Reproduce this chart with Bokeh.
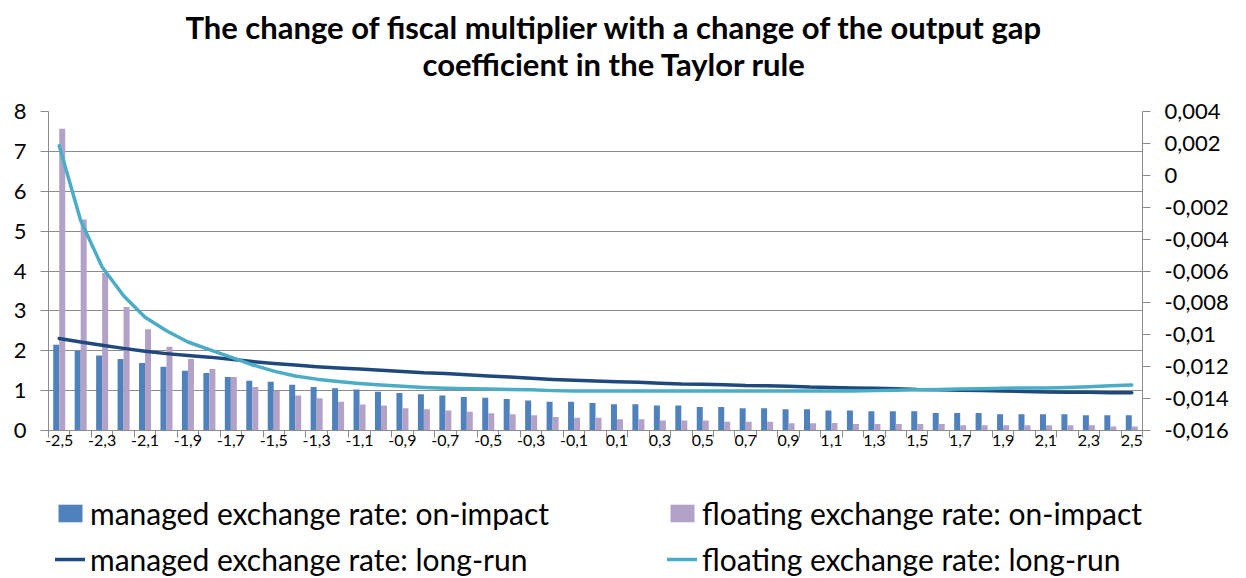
from bokeh.plotting import figure
from bokeh.layouts import column
from bokeh.models import (Range1d, LinearAxis, FixedTicker, CustomJSTickFormatter,
                          Legend, LegendItem, Label, ColumnDataSource)
from bokeh.transform import dodge
from bokeh.embed import file_html
from bokeh.resources import INLINE

# ---------------- data ----------------
categories = ["-2,5", "-2,4", "-2,3", "-2,2", "-2,1", "-2", "-1,9", "-1,8", "-1,7", "-1,6",
              "-1,5", "-1,4", "-1,3", "-1,2", "-1,1", "-1", "-0,9", "-0,8", "-0,7", "-0,6",
              "-0,5", "-0,4", "-0,3", "-0,2", "-0,1", "0", "0,1", "0,2", "0,3", "0,4",
              "0,5", "0,6", "0,7", "0,8", "0,9", "1", "1,1", "1,2", "1,3", "1,4",
              "1,5", "1,6", "1,7", "1,8", "1,9", "2", "2,1", "2,2", "2,3", "2,4", "2,5"]

managed_on_impact = [2.15, 2.00, 1.88, 1.79, 1.69, 1.60, 1.50, 1.44, 1.34, 1.25,
                     1.22, 1.15, 1.09, 1.06, 1.03, 0.97, 0.94, 0.91, 0.88, 0.84,
                     0.82, 0.79, 0.75, 0.72, 0.72, 0.69, 0.66, 0.66, 0.63, 0.63,
                     0.59, 0.59, 0.56, 0.56, 0.53, 0.53, 0.50, 0.50, 0.48, 0.48,
                     0.48, 0.44, 0.44, 0.44, 0.41, 0.41, 0.41, 0.41, 0.38, 0.38, 0.38]

floating_on_impact = [7.57, 5.29, 3.95, 3.10, 2.54, 2.10, 1.79, 1.54, 1.34, 1.09,
                      1.00, 0.88, 0.81, 0.72, 0.65, 0.63, 0.56, 0.53, 0.50, 0.47,
                      0.43, 0.41, 0.38, 0.34, 0.32, 0.32, 0.28, 0.28, 0.25, 0.25,
                      0.25, 0.22, 0.22, 0.22, 0.18, 0.18, 0.19, 0.16, 0.16, 0.16,
                      0.16, 0.16, 0.13, 0.13, 0.13, 0.13, 0.13, 0.13, 0.13, 0.10, 0.10]

managed_long_run = [-0.01023, -0.01045, -0.01065, -0.01085, -0.01103, -0.01118, -0.01130, -0.01140, -0.01153, -0.01168,
                    -0.01180, -0.01190, -0.01200, -0.01208, -0.01215, -0.01223, -0.01230, -0.01238, -0.01243, -0.01250,
                    -0.01258, -0.01265, -0.01273, -0.01280, -0.01285, -0.01290, -0.01295, -0.01298, -0.01303, -0.01308,
                    -0.01310, -0.01313, -0.01318, -0.01320, -0.01323, -0.01328, -0.01330, -0.01333, -0.01335, -0.01338,
                    -0.01343, -0.01345, -0.01348, -0.01350, -0.01353, -0.01355, -0.01358, -0.01360, -0.01360, -0.01363, -0.01363]

floating_long_run = [0.00185, -0.00283, -0.00575, -0.00755, -0.00890, -0.00975, -0.01045, -0.01093, -0.01140, -0.01188,
                     -0.01228, -0.01258, -0.01278, -0.01293, -0.01305, -0.01315, -0.01323, -0.01330, -0.01335, -0.01338,
                     -0.01340, -0.01343, -0.01345, -0.01350, -0.01353, -0.01353, -0.01353, -0.01353, -0.01353, -0.01353,
                     -0.01353, -0.01353, -0.01353, -0.01353, -0.01353, -0.01353, -0.01353, -0.01353, -0.01350, -0.01348,
                     -0.01345, -0.01343, -0.01340, -0.01338, -0.01335, -0.01333, -0.01333, -0.01330, -0.01325, -0.01320, -0.01315]

left_ticks = [0, 1, 2, 3, 4, 5, 6, 7, 8]
right_ticks = [-0.016, -0.014, -0.012, -0.010, -0.008, -0.006, -0.004, -0.002, 0.0, 0.002, 0.004]

title_lines = ["The change of fiscal multiplier with a change of the output gap",
               "coefficient in the Taylor rule"]
series_names = ["managed exchange rate: on-impact", "floating exchange rate: on-impact",
                "managed exchange rate: long-run", "floating exchange rate: long-run"]

# ---------------- styles ----------------
FONT = "Lato"
C_MAN_BAR = "#4F81BD"
C_FLO_BAR = "#B3A2C7"
C_MAN_LINE = "#1F497D"
C_FLO_LINE = "#4BACC6"
GRID = "#8C8C8C"
W = 1246
TITLE_H = 90
LEGEND_H = 98
MAIN_H = 578 - TITLE_H - LEGEND_H

n = len(categories)
pos = [i + 0.5 for i in range(n)]
src = ColumnDataSource(dict(pos=pos, mi=managed_on_impact, fi=floating_on_impact,
                            ml=managed_long_run, fl=floating_long_run))

# ---------------- title strip ----------------
tf = figure(width=W, height=TITLE_H, output_backend="svg", toolbar_location=None,
            x_range=Range1d(0, 1), y_range=Range1d(0, 1),
            x_axis_location=None, y_axis_location=None, min_border=0)
tf.outline_line_color = None
tf.grid.visible = False
for txt, yy in zip(title_lines, [64, 27]):
    tf.add_layout(Label(x=566, y=yy, x_units="screen", y_units="screen", text=txt,
                        text_align="center", text_baseline="middle", text_font=FONT,
                        text_font_style="bold", text_font_size="31px", text_color="black"))

# ---------------- main chart ----------------
p = figure(width=W, height=MAIN_H, output_backend="svg", toolbar_location=None,
           x_range=Range1d(0, n), y_range=Range1d(0, 8),
           min_border_left=48, min_border_right=104, min_border_top=111 - TITLE_H,
           min_border_bottom=MAIN_H - (111 - TITLE_H) - 319)
p.extra_y_ranges = {"lr": Range1d(-0.016, 0.004)}
p.outline_line_color = None
p.xgrid.visible = False
p.ygrid.grid_line_color = GRID
p.ygrid.grid_line_width = 1

ya = p.yaxis[0]
ya.ticker = FixedTicker(ticks=left_ticks)
ya.axis_line_color = GRID
ya.major_tick_line_color = GRID
ya.major_tick_out = 8
ya.major_tick_in = 0
ya.minor_tick_line_color = None
ya.major_label_standoff = 14
ya.major_label_text_font = FONT
ya.major_label_text_font_size = "22px"
ya.major_label_text_color = "black"

ra = LinearAxis(y_range_name="lr", ticker=FixedTicker(ticks=right_ticks),
                formatter=CustomJSTickFormatter(code="var s = (+tick.toFixed(4)).toString(); return s.replace('.', ',');"))
ra.axis_line_color = GRID
ra.major_tick_line_color = GRID
ra.major_tick_out = 8
ra.major_tick_in = 0
ra.minor_tick_line_color = None
ra.major_label_standoff = 14
ra.major_label_text_font = FONT
ra.major_label_text_font_size = "22px"
ra.major_label_text_color = "black"
p.add_layout(ra, "right")

xa = p.xaxis[0]
xa.ticker = FixedTicker(ticks=[pos[i] for i in range(0, n, 2)],
                        minor_ticks=[float(i) for i in range(n + 1)])
xa.formatter = CustomJSTickFormatter(args=dict(labels=categories),
                                     code="return labels[Math.floor(tick)];")
xa.axis_line_color = GRID
xa.major_tick_line_color = None
xa.major_tick_out = 0
xa.major_tick_in = 0
xa.minor_tick_line_color = GRID
xa.minor_tick_out = 7
xa.minor_tick_in = 0
xa.major_label_standoff = -3
xa.major_label_text_font = FONT
xa.major_label_text_font_size = "16px"
xa.major_label_text_color = "black"

bar_style = dict(width=0.28, line_color=None)
line_style = dict(line_width=3.5, line_join="round", line_cap="round")

p.vbar(x=dodge("pos", -0.14), top="mi", source=src, fill_color=C_MAN_BAR, **bar_style)
p.vbar(x=dodge("pos", 0.14), top="fi", source=src, fill_color=C_FLO_BAR, **bar_style)
p.line("pos", "ml", source=src, y_range_name="lr", line_color=C_MAN_LINE, **line_style)
p.line("pos", "fl", source=src, y_range_name="lr", line_color=C_FLO_LINE, **line_style)

# ---------------- legend strip ----------------
# same series drawn again here, but outside this strip's view, so that only
# their legend swatches show
lf = figure(width=W, height=LEGEND_H, output_backend="svg", toolbar_location=None,
            x_range=Range1d(-3, -2), y_range=Range1d(100, 101),
            x_axis_location=None, y_axis_location=None, min_border=0)
lf.outline_line_color = None
lf.grid.visible = False
lf.extra_y_ranges = {"lr": Range1d(100, 101)}
sw_mi = lf.vbar(x=dodge("pos", -0.14), top="mi", source=src, fill_color=C_MAN_BAR, **bar_style)
sw_fi = lf.vbar(x=dodge("pos", 0.14), top="fi", source=src, fill_color=C_FLO_BAR, **bar_style)
sw_ml = lf.line("pos", "ml", source=src, y_range_name="lr", line_color=C_MAN_LINE, **line_style)
sw_fl = lf.line("pos", "fl", source=src, y_range_name="lr", line_color=C_FLO_LINE, **line_style)


def make_legend(items, loc):
    return Legend(items=items, location=loc, orientation="vertical",
                  glyph_width=30, glyph_height=22, label_standoff=5, spacing=10,
                  padding=0, margin=0, border_line_color=None, background_fill_alpha=0,
                  label_text_font=FONT, label_text_font_size="30px", label_height=22,
                  label_text_color="black")


lf.add_layout(make_legend([LegendItem(label=series_names[0], renderers=[sw_mi]),
                           LegendItem(label=series_names[2], renderers=[sw_ml])], (7, 1)))
lf.add_layout(make_legend([LegendItem(label=series_names[1], renderers=[sw_fi]),
                           LegendItem(label=series_names[3], renderers=[sw_fl])], (619, 1)))

layout = column(tf, p, lf, spacing=0)
open("out.html", "w").write(file_html(layout, INLINE))
